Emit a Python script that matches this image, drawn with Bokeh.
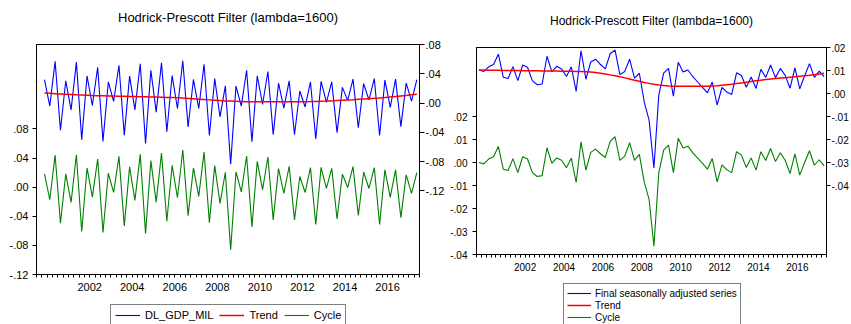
import pandas as pd
from bokeh.plotting import figure
from bokeh.models import (Range1d, LinearAxis, FixedTicker, CustomJSTickFormatter,
                          Legend, LegendItem, Title)
from bokeh.layouts import row, column
from bokeh.embed import file_html
from bokeh.resources import INLINE

FONT = "Liberation Sans"
TITLE = "Hodrick-Prescott Filter (lambda=1600)"

# ---------------- data: left chart (2000Q2 - 2017Q4) ----------------
periods_left = pd.period_range("2000Q2", "2017Q4", freq="Q")
dl_gdp_mil = [0.0319, -0.0040, 0.0570, -0.0371, 0.0303, -0.0092, 0.0559, -0.0500, 0.0371, -0.0033,
              0.0489, -0.0523, 0.0289, 0.0023, 0.0517, -0.0440, 0.0368, -0.0093, 0.0537, -0.0551,
              0.0448, -0.0123, 0.0549, -0.0391, 0.0376, -0.0074, 0.0578, -0.0327, 0.0323, -0.0073,
              0.0531, -0.0443, 0.0335, -0.0189, 0.0235, -0.0833, 0.0233, -0.0042, 0.0448, -0.0527,
              0.0373, -0.0019, 0.0431, -0.0433, 0.0272, -0.0069, 0.0304, -0.0432, 0.0165, -0.0053,
              0.0289, -0.0491, 0.0298, 0.0009, 0.0289, -0.0403, 0.0215, 0.0037, 0.0328, -0.0336,
              0.0265, 0.0043, 0.0334, -0.0443, 0.0314, -0.0057, 0.0328, -0.0321, 0.0273, 0.0027,
              0.0321]
trend_left = [0.0137, 0.0133, 0.0129, 0.0125, 0.0121, 0.0117, 0.0113, 0.0110, 0.0107, 0.0104,
              0.0102, 0.0100, 0.0098, 0.0096, 0.0094, 0.0092, 0.0090, 0.0089, 0.0087, 0.0086,
              0.0084, 0.0082, 0.0080, 0.0078, 0.0076, 0.0072, 0.0068, 0.0064, 0.0059, 0.0054,
              0.0049, 0.0044, 0.0039, 0.0034, 0.0030, 0.0027, 0.0024, 0.0022, 0.0020, 0.0019,
              0.0018, 0.0017, 0.0017, 0.0017, 0.0017, 0.0017, 0.0017, 0.0018, 0.0019, 0.0020,
              0.0021, 0.0023, 0.0025, 0.0027, 0.0030, 0.0034, 0.0038, 0.0042, 0.0046, 0.0051,
              0.0056, 0.0061, 0.0066, 0.0071, 0.0077, 0.0084, 0.0091, 0.0098, 0.0105, 0.0113,
              0.0121]
cycle_left = [0.0182, -0.0173, 0.0441, -0.0496, 0.0182, -0.0209, 0.0446, -0.0610, 0.0264, -0.0137,
              0.0387, -0.0623, 0.0191, -0.0073, 0.0423, -0.0532, 0.0278, -0.0182, 0.0450, -0.0637,
              0.0364, -0.0205, 0.0469, -0.0469, 0.0300, -0.0146, 0.0510, -0.0391, 0.0264, -0.0127,
              0.0482, -0.0487, 0.0296, -0.0223, 0.0205, -0.0860, 0.0209, -0.0064, 0.0428, -0.0546,
              0.0355, -0.0036, 0.0414, -0.0450, 0.0255, -0.0086, 0.0287, -0.0450, 0.0146, -0.0073,
              0.0268, -0.0514, 0.0273, -0.0018, 0.0259, -0.0437, 0.0177, -0.0005, 0.0282, -0.0387,
              0.0209, -0.0018, 0.0268, -0.0514, 0.0237, -0.0141, 0.0237, -0.0419, 0.0168, -0.0086,
              0.0200]

# ---------------- data: right chart (2000Q1 - 2017Q4) ----------------
periods_right = pd.period_range("2000Q1", "2017Q4", freq="Q")
sa_series = [0.0102, 0.0096, 0.0116, 0.0126, 0.0171, 0.0071, 0.0065, 0.0117, 0.0056, 0.0124,
             0.0114, 0.0055, 0.0038, 0.0041, 0.0162, 0.0094, 0.0118, 0.0107, 0.0074, 0.0116,
             0.0009, 0.0186, 0.0062, 0.0137, 0.0149, 0.0126, 0.0107, 0.0173, 0.0189, 0.0082,
             0.0096, 0.0149, 0.0067, 0.0088, -0.0036, -0.0116, -0.0324, -0.0007, 0.0089, 0.0109,
             -0.0012, 0.0136, 0.0094, 0.0102, 0.0073, 0.0050, 0.0027, 0.0003, 0.0050, -0.0050,
             0.0026, 0.0006, -0.0004, 0.0090, 0.0078, 0.0027, 0.0072, 0.0022, 0.0105, 0.0070,
             0.0124, 0.0069, 0.0109, 0.0079, 0.0023, 0.0111, 0.0020, 0.0077, 0.0130, 0.0070,
             0.0097, 0.0073]
trend_right = [0.0102, 0.0102, 0.0101, 0.0101, 0.0101, 0.0100, 0.0100, 0.0100, 0.0100, 0.0099,
               0.0099, 0.0099, 0.0099, 0.0098, 0.0098, 0.0098, 0.0098, 0.0097, 0.0097, 0.0097,
               0.0096, 0.0096, 0.0095, 0.0093, 0.0091, 0.0088, 0.0085, 0.0081, 0.0077, 0.0073,
               0.0068, 0.0063, 0.0058, 0.0053, 0.0048, 0.0044, 0.0040, 0.0037, 0.0035, 0.0033,
               0.0032, 0.0031, 0.0031, 0.0031, 0.0031, 0.0031, 0.0031, 0.0032, 0.0033, 0.0034,
               0.0036, 0.0038, 0.0040, 0.0043, 0.0046, 0.0049, 0.0052, 0.0055, 0.0058, 0.0061,
               0.0063, 0.0065, 0.0067, 0.0069, 0.0071, 0.0073, 0.0075, 0.0077, 0.0079, 0.0082,
               0.0085, 0.0088]
cycle_right = [0.0000, -0.0006, 0.0015, 0.0025, 0.0070, -0.0029, -0.0035, 0.0017, -0.0044, 0.0025,
               0.0015, -0.0044, -0.0061, -0.0057, 0.0064, -0.0004, 0.0020, 0.0010, -0.0023, 0.0019,
               -0.0087, 0.0090, -0.0033, 0.0044, 0.0058, 0.0038, 0.0022, 0.0092, 0.0112, 0.0009,
               0.0028, 0.0086, 0.0009, 0.0035, -0.0084, -0.0160, -0.0364, -0.0044, 0.0054, 0.0076,
               -0.0044, 0.0105, 0.0063, 0.0071, 0.0042, 0.0019, -0.0004, -0.0029, 0.0017, -0.0084,
               -0.0010, -0.0032, -0.0044, 0.0047, 0.0032, -0.0022, 0.0020, -0.0033, 0.0047, 0.0009,
               0.0061, 0.0004, 0.0042, 0.0010, -0.0048, 0.0038, -0.0055, 0.0000, 0.0051, -0.0012,
               0.0012, -0.0015]

year_labels = ["2002", "2004", "2006", "2008", "2010", "2012", "2014", "2016"]
left_cycle_ticks = [-0.12, -0.08, -0.04, 0.0, 0.04, 0.08]
left_series_ticks = [-0.12, -0.08, -0.04, 0.0, 0.04, 0.08]
right_cycle_ticks = [-0.04, -0.03, -0.02, -0.01, 0.0, 0.01, 0.02]
right_series_ticks = [-0.04, -0.03, -0.02, -0.01, 0.0, 0.01, 0.02]

BLUE, RED, GREEN = "#0000ff", "#ff0000", "#008000"
WIDTHS = (1.1, 1.5, 1.1)


def qpos(periods):
    # centre of each quarter, in decimal years
    return [p.year + (p.quarter - 1) / 4 + 0.125 for p in periods]


DEC_FMT = """
const a = Math.abs(tick).toFixed(2);
const s = a.charAt(0) == '0' ? a.slice(1) : a;
return (tick < -1e-9 ? '-' : '') + s;
"""
YEAR_FMT = "return String(Math.floor(tick));"


def make_chart(width, height, borders, cyc_range, ser_range, cyc_ticks, ser_ticks,
               x, series, trend, cycle, tick_fs, title_fs, spacer_fs,
               laxis, raxis, xstandoff):
    bl, br, bt, bb = borders
    p = figure(width=width, height=height, output_backend="svg", toolbar_location=None,
               x_range=Range1d(2000, 2018), y_range=Range1d(*cyc_range),
               x_axis_location=None, y_axis_location=None, title=None, frame_align=False,
               min_border_left=bl, min_border_right=br, min_border_top=bt, min_border_bottom=bb,
               background_fill_color="white", border_fill_color="white")
    p.extra_y_ranges = {"ser": Range1d(*ser_range)}
    p.xgrid.visible = False
    p.ygrid.visible = False
    p.outline_line_color = "black"
    p.outline_line_width = 1
    p.outline_line_alpha = 1

    # blank spacer title (closest to frame) then the real title above it
    p.add_layout(Title(text=" ", text_font=FONT, text_font_size=spacer_fs, standoff=0), "above")
    p.add_layout(Title(text=TITLE, align="center", text_font=FONT, text_font_size=title_fs,
                       text_font_style="normal", text_color="black", standoff=2), "above")

    common = dict(major_label_text_font=FONT, major_label_text_font_size=tick_fs,
                  major_label_text_color="black", axis_line_color="black",
                  major_tick_line_color="black", minor_tick_line_color="black",
                  major_tick_in=0, minor_tick_in=0)

    la = LinearAxis(ticker=FixedTicker(ticks=cyc_ticks),
                    formatter=CustomJSTickFormatter(code=DEC_FMT),
                    major_tick_out=laxis[0], major_label_standoff=laxis[1], **common)
    p.add_layout(la, "left")
    ra = LinearAxis(y_range_name="ser", ticker=FixedTicker(ticks=ser_ticks),
                    formatter=CustomJSTickFormatter(code=DEC_FMT),
                    major_tick_out=raxis[0], major_label_standoff=raxis[1], **common)
    p.add_layout(ra, "right")

    year_labels_pos = [int(s) + 0.5 for s in year_labels]
    quarter_marks = [y + k / 4 for y in range(2000, 2018) for k in (0, 1, 2, 3)] + [2018]
    label_axis = LinearAxis(ticker=FixedTicker(ticks=year_labels_pos, minor_ticks=quarter_marks),
                            formatter=CustomJSTickFormatter(code=YEAR_FMT),
                            major_tick_out=0, minor_tick_out=3, major_tick_in=0, minor_tick_in=0,
                            major_label_standoff=xstandoff, axis_line_color="black",
                            minor_tick_line_color="black",
                            major_label_text_font=FONT, major_label_text_font_size=tick_fs,
                            major_label_text_color="black")
    p.add_layout(label_axis, "below")

    for y, color, lw, rng in zip((series, trend, cycle), (BLUE, RED, GREEN), WIDTHS,
                                 ("ser", "ser", "default")):
        p.line(x, y, y_range_name=rng, line_color=color, line_width=lw)
    return p


def make_legend(width, height, names, x, ys, loc, cfg):
    # separate strip holding the legend box below the chart; its samples use the
    # same series, drawn outside this strip's visible range
    lf = figure(width=width, height=height, output_backend="svg", toolbar_location=None,
                x_range=Range1d(0, 1), y_range=Range1d(0, 1), title=None,
                x_axis_location=None, y_axis_location=None, frame_align=False,
                min_border=0, outline_line_color=None,
                background_fill_color="white", border_fill_color="white")
    lf.xgrid.visible = False
    lf.ygrid.visible = False
    items = []
    for name, y, color, lw in zip(names, ys, (BLUE, RED, GREEN), WIDTHS):
        r = lf.line(x, y, line_color=color, line_width=lw)
        items.append(LegendItem(label=name, renderers=[r]))
    legend = Legend(items=items, location=loc, border_line_color="black", border_line_width=1,
                    background_fill_color="white", background_fill_alpha=1,
                    label_text_font=FONT, label_text_color="black", margin=0, **cfg)
    lf.add_layout(legend)
    return lf


x_left = qpos(periods_left)
x_right = qpos(periods_right)

p1 = make_chart(447, 296, (36, 25, 44, 22), (-0.12, 0.196), (-0.234, 0.08),
                left_cycle_ticks, left_series_ticks,
                x_left, dl_gdp_mil, trend_left, cycle_left,
                "11px", "13px", "16px", (4, 4), (5, 1), 5)
leg1 = make_legend(447, 28, ["DL_GDP_MIL", "Trend", "Cycle"], x_left,
                   (dl_gdp_mil, trend_left, cycle_left), (110, -2),
                   dict(orientation="horizontal", label_text_font_size="11px", glyph_width=25,
                        glyph_height=12, label_height=12, label_standoff=5, spacing=6,
                        padding=4))

p2 = make_chart(404, 276, (26, 19, 47, 22), (-0.04, 0.05), (-0.07, 0.02),
                right_cycle_ticks, right_series_ticks,
                x_right, sa_series, trend_right, cycle_right,
                "10px", "12px", "15px", (4, 5), (4, 1), 5)
leg2 = make_legend(404, 48, ["Final seasonally adjusted series", "Trend", "Cycle"], x_right,
                   (sa_series, trend_right, cycle_right), (116, -3),
                   dict(orientation="vertical", label_text_font_size="10px", glyph_width=24,
                        glyph_height=12, label_height=12, label_standoff=4, spacing=0,
                        padding=3))

layout = row(column(p1, leg1), column(p2, leg2))
open("out.html", "w").write(file_html(layout, INLINE))
